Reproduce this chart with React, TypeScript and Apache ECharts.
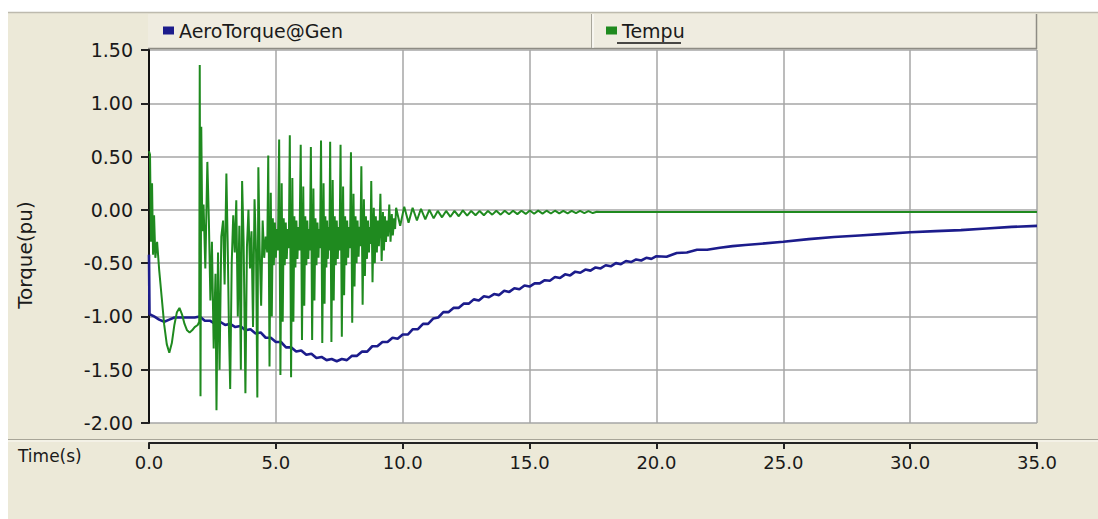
import React, { useEffect, useRef } from "react";
import * as echarts from "echarts";

const seriesNames = ["AeroTorque@Gen", "Tempu"];
const seriesColors = ["#1c1c8c", "#1f8a1f"];
const yAxisTitle = "Torque(pu)";
const xAxisTitle = "Time(s)";

// AeroTorque@Gen : [time (s), torque (pu)]
const aeroTorque: [number, number][] = [
  [0.0, -0.42], [0.02, -0.98], [0.2, -1.0], [0.4, -1.03], [0.6, -1.05], [0.8, -1.03], [1.0, -1.01],
  [1.4, -1.01], [1.8, -1.01], [2.0, -1.0], [2.2, -1.04], [2.4, -1.04], [2.6, -1.07], [2.8, -1.05],
  [3.0, -1.08], [3.2, -1.07], [3.4, -1.1], [3.6, -1.09], [3.8, -1.13], [4.0, -1.12], [4.2, -1.16],
  [4.4, -1.15], [4.6, -1.2], [4.8, -1.2], [5.0, -1.24], [5.2, -1.24], [5.4, -1.29], [5.6, -1.29],
  [5.8, -1.33], [6.0, -1.32], [6.2, -1.36], [6.4, -1.35], [6.6, -1.39], [6.8, -1.38], [7.0, -1.41],
  [7.2, -1.4], [7.4, -1.42], [7.6, -1.4], [7.8, -1.41], [8.0, -1.37], [8.2, -1.37], [8.4, -1.33],
  [8.6, -1.33], [8.8, -1.28], [9.0, -1.28], [9.2, -1.24], [9.4, -1.24], [9.6, -1.2], [9.8, -1.21],
  [10.0, -1.17], [10.2, -1.17], [10.4, -1.12], [10.6, -1.12], [10.8, -1.07], [11.0, -1.07],
  [11.2, -1.02], [11.4, -1.01], [11.6, -0.96], [11.8, -0.96], [12.0, -0.92], [12.2, -0.92],
  [12.4, -0.88], [12.6, -0.88], [12.8, -0.84], [13.0, -0.85], [13.2, -0.81], [13.4, -0.82],
  [13.6, -0.79], [13.8, -0.8], [14.0, -0.76], [14.2, -0.77], [14.4, -0.735], [14.6, -0.745],
  [14.8, -0.71], [15.0, -0.72], [15.2, -0.69], [15.4, -0.69], [15.6, -0.66], [15.8, -0.665],
  [16.0, -0.63], [16.2, -0.64], [16.4, -0.605], [16.6, -0.615], [16.8, -0.58], [17.0, -0.59],
  [17.2, -0.56], [17.4, -0.57], [17.6, -0.54], [17.8, -0.55], [18.0, -0.52], [18.2, -0.53],
  [18.4, -0.5], [18.6, -0.51], [18.8, -0.48], [19.0, -0.49], [19.2, -0.465], [19.4, -0.475],
  [19.6, -0.45], [19.8, -0.46], [20.0, -0.435], [20.4, -0.44], [20.8, -0.405], [21.2, -0.4],
  [21.6, -0.375], [22.0, -0.375], [22.5, -0.355], [23.0, -0.34], [23.5, -0.33], [24.0, -0.32],
  [25.0, -0.3], [26.0, -0.275], [27.0, -0.255], [28.0, -0.24], [29.0, -0.225], [30.0, -0.21],
  [31.0, -0.2], [32.0, -0.19], [33.0, -0.175], [34.0, -0.16], [35.0, -0.15],
];

// Tempu : [time (s), torque (pu)]
const tempu: [number, number][] = [
  [0.0, 0.55], [0.04, 0.52], [0.08, -0.3], [0.12, 0.25], [0.16, -0.42], [0.2, -0.05], [0.25, -0.45],
  [0.32, -0.3], [0.4, -0.56], [0.5, -0.82], [0.6, -1.08], [0.7, -1.26], [0.8, -1.34], [0.9, -1.25],
  [1.0, -1.08], [1.1, -0.96], [1.2, -0.92], [1.3, -0.98], [1.4, -1.07], [1.5, -1.13], [1.6, -1.15],
  [1.7, -1.13], [1.8, -1.1], [1.92, -1.08], [1.98, -1.05],
  [2.0, 1.36], [2.03, -1.75], [2.06, 0.78], [2.1, -0.2], [2.15, 0.05], [2.22, -0.55], [2.3, 0.45],
  [2.36, -0.1], [2.42, -0.85], [2.48, -0.3], [2.55, -1.3], [2.62, -0.6], [2.66, -1.88], [2.72, -0.4],
  [2.78, -1.5], [2.85, -0.25], [2.92, -0.1], [2.98, -0.7], [3.05, 0.34], [3.1, -0.3], [3.15, -1.1],
  [3.2, -1.68], [3.26, -0.5], [3.32, -0.05], [3.38, -0.4], [3.44, 0.09], [3.5, -1.0], [3.56, -0.15],
  [3.62, -1.5], [3.67, 0.27], [3.73, -0.3], [3.8, -1.72], [3.86, -0.35], [3.92, 0.0], [3.98, -0.55],
  [4.04, -0.2], [4.1, -1.1], [4.16, 0.1], [4.22, -0.4], [4.27, -1.76], [4.31, 0.4], [4.36, -0.35],
  [4.42, -0.9], [4.48, -0.1], [4.54, -0.45], [4.6, -0.25],
  [4.66, -0.4], [4.7, 0.51], [4.75, -1.47], [4.8, 0.16], [4.84, -1.0], [4.88, -0.08], [4.92, -0.52],
  [4.96, -0.12], [5.0, -0.45], [5.04, -0.18], [5.08, -0.38],
  [5.13, 0.66], [5.18, -1.55], [5.23, 0.25], [5.27, -1.05], [5.31, -0.08], [5.35, -0.52], [5.39, -0.12],
  [5.43, -0.46], [5.47, -0.18], [5.51, -0.36],
  [5.55, 0.7], [5.6, -1.57], [5.65, 0.3], [5.69, -1.05], [5.73, -0.06], [5.77, -0.54], [5.81, -0.1],
  [5.85, -0.46], [5.89, -0.16], [5.93, -0.38],
  [5.98, 0.61], [6.03, -1.22], [6.08, 0.22], [6.12, -0.9], [6.16, -0.06], [6.2, -0.52], [6.24, -0.1],
  [6.28, -0.46], [6.31, -0.18], [6.34, -0.38],
  [6.38, 0.59], [6.43, -1.22], [6.48, 0.2], [6.52, -0.85], [6.56, -0.08], [6.6, -0.52], [6.64, -0.12],
  [6.68, -0.45], [6.71, -0.18], [6.74, -0.36],
  [6.78, 0.65], [6.83, -1.25], [6.88, 0.25], [6.92, -0.88], [6.95, -0.06], [6.99, -0.54], [7.02, -0.1],
  [7.05, -0.46], [7.08, -0.16], [7.11, -0.38],
  [7.14, 0.64], [7.19, -1.24], [7.24, 0.28], [7.28, -0.85], [7.32, -0.06], [7.36, -0.52], [7.4, -0.1],
  [7.44, -0.46], [7.48, -0.16], [7.51, -0.38],
  [7.55, 0.61], [7.6, -1.19], [7.65, 0.22], [7.69, -0.8], [7.73, -0.06], [7.77, -0.52], [7.81, -0.1],
  [7.85, -0.45], [7.89, -0.16], [7.92, -0.36],
  [7.96, 0.54], [8.01, -1.06], [8.06, 0.15], [8.1, -0.72], [8.14, -0.06], [8.18, -0.5], [8.22, -0.1],
  [8.26, -0.44], [8.3, -0.16], [8.33, -0.34],
  [8.37, 0.41], [8.42, -0.89], [8.47, 0.1], [8.51, -0.62], [8.55, -0.06], [8.59, -0.46], [8.63, -0.1],
  [8.67, -0.4], [8.7, -0.16], [8.73, -0.32],
  [8.76, 0.27], [8.81, -0.68], [8.86, 0.02], [8.9, -0.5], [8.94, -0.06], [8.98, -0.4], [9.02, -0.1],
  [9.06, -0.34], [9.09, -0.15],
  [9.12, 0.15], [9.17, -0.48], [9.22, -0.02], [9.26, -0.38], [9.3, -0.06], [9.34, -0.3], [9.38, -0.1],
  [9.42, -0.25],
  [9.47, 0.05], [9.52, -0.3], [9.57, -0.04], [9.61, -0.24], [9.66, -0.08], [9.7, -0.18],
  [9.74, 0.02], [9.9, -0.15], [10.06, 0.03], [10.23, -0.12], [10.39, 0.02], [10.56, -0.1],
  [10.72, 0.01], [10.89, -0.09], [11.05, 0.0], [11.22, -0.08], [11.38, -0.01], [11.55, -0.07],
  [11.71, -0.01], [11.88, -0.065], [12.04, -0.01], [12.21, -0.06], [12.37, -0.005], [12.54, -0.055],
  [12.7, -0.01], [12.87, -0.05], [13.03, -0.01], [13.2, -0.05], [13.36, -0.01], [13.53, -0.045],
  [13.69, -0.008], [13.86, -0.045], [14.02, -0.008], [14.19, -0.042], [14.35, -0.008], [14.52, -0.04],
  [14.68, -0.008], [14.85, -0.038], [15.01, -0.006], [15.18, -0.036], [15.34, -0.007], [15.51, -0.035],
  [15.67, -0.008], [15.84, -0.034], [16.0, -0.008], [16.17, -0.033], [16.33, -0.009], [16.5, -0.032],
  [16.66, -0.01], [16.83, -0.031], [16.99, -0.01], [17.16, -0.03], [17.32, -0.012], [17.49, -0.03],
  [17.65, -0.018], [17.8, -0.02], [35.0, -0.02],
];

const labelFont = "DejaVu Sans";
const textColor = "#1a1a1a";

export default function App() {
  const ref = useRef<HTMLDivElement>(null);
  useEffect(() => {
    if (!ref.current) return;
    const chart = echarts.init(ref.current, undefined, { renderer: "svg" });
    const legendText = { fontFamily: labelFont, fontSize: 19, color: textColor };
    chart.setOption({
      animation: false,
      backgroundColor: "#ffffff",
      grid: { left: 149, right: 61, top: 50, bottom: 96, containLabel: false },
      legend: [
        {
          data: [seriesNames[0]], left: 158, top: 16, icon: "rect", itemWidth: 11, itemHeight: 8,
          selectedMode: false, textStyle: legendText,
        },
        {
          data: [seriesNames[1]], left: 601, top: 16, icon: "rect", itemWidth: 11, itemHeight: 8,
          selectedMode: false, textStyle: legendText,
        },
      ],
      xAxis: {
        type: "value", min: 0, max: 35, interval: 5, offset: 20,
        axisLine: { onZero: false, lineStyle: { color: "#222", width: 2 } },
        axisTick: { show: true, length: 6, lineStyle: { color: "#222", width: 2 } },
        axisLabel: {
          formatter: (v: number) => v.toFixed(1), margin: 10, fontFamily: labelFont,
          fontSize: 18, color: textColor,
        },
        splitLine: { show: true, lineStyle: { color: "#a6a6a6", width: 1.5 } },
      },
      yAxis: {
        type: "value", min: -2, max: 1.5, interval: 0.5,
        axisLine: { show: true, onZero: false, lineStyle: { color: "#111", width: 2 } },
        axisTick: { show: true, length: 8, lineStyle: { color: "#222", width: 2 } },
        axisLabel: {
          formatter: (v: number) => v.toFixed(2), margin: 16, fontFamily: labelFont,
          fontSize: 19, color: textColor,
        },
        splitLine: { show: true, lineStyle: { color: "#a6a6a6", width: 1.5 } },
      },
      series: [
        {
          name: seriesNames[0], type: "line", data: aeroTorque, showSymbol: false, symbol: "none",
          lineStyle: { color: seriesColors[0], width: 2.6 }, itemStyle: { color: seriesColors[0] },
        },
        {
          name: seriesNames[1], type: "line", data: tempu, showSymbol: false, symbol: "none",
          lineStyle: { color: seriesColors[1], width: 2 }, itemStyle: { color: seriesColors[1] },
        },
      ],
      graphic: [
        { type: "rect", z: -100, shape: { x: 8, y: 12, width: 1090, height: 507 }, style: { fill: "#ECE9D8" } },
        { type: "line", z: -95, shape: { x1: 8, y1: 12.5, x2: 1098, y2: 12.5 }, style: { stroke: "#bdbaae", lineWidth: 1.5 } },
        { type: "rect", z: -90, shape: { x: 149, y: 50, width: 888, height: 373 }, style: { fill: "#ffffff" } },
        { type: "rect", z: -80, shape: { x: 148, y: 14, width: 444, height: 34 }, style: { fill: "#EFECE0" } },
        { type: "rect", z: -80, shape: { x: 592, y: 14, width: 444, height: 34 }, style: { fill: "#EFECE0" } },
        { type: "line", z: -70, shape: { x1: 148, y1: 48.5, x2: 1037, y2: 48.5 }, style: { stroke: "#8e8c84", lineWidth: 1.5 } },
        { type: "line", z: -70, shape: { x1: 591.5, y1: 14, x2: 591.5, y2: 48 }, style: { stroke: "#a9a79c", lineWidth: 1 } },
        { type: "line", z: -70, shape: { x1: 593, y1: 14, x2: 593, y2: 48 }, style: { stroke: "#ffffff", lineWidth: 1 } },
        { type: "line", z: -70, shape: { x1: 1036.5, y1: 14, x2: 1036.5, y2: 49 }, style: { stroke: "#8e8c84", lineWidth: 1.5 } },
        { type: "line", z: -70, shape: { x1: 8, y1: 439.5, x2: 1098, y2: 439.5 }, style: { stroke: "#a8a598", lineWidth: 1.2 } },
        { type: "line", z: -70, shape: { x1: 8, y1: 441, x2: 1098, y2: 441 }, style: { stroke: "#fbfaf5", lineWidth: 1 } },
        { type: "line", z: 10, shape: { x1: 617, y1: 43, x2: 681, y2: 43 }, style: { stroke: "#111", lineWidth: 1.5 } },
        {
          type: "text", z: 10, x: 18, y: 456,
          style: { text: xAxisTitle, fill: textColor, font: `17px "${labelFont}"`, align: "left", verticalAlign: "middle" },
        },
        {
          type: "text", z: 10, x: 25, y: 255, rotation: Math.PI / 2,
          style: { text: yAxisTitle, fill: textColor, font: `20px "${labelFont}"`, align: "center", verticalAlign: "middle" },
        },
      ],
    });
    return () => chart.dispose();
  }, []);
  return <div ref={ref} style={{ position: "absolute", left: 0, top: 0, width: 1098, height: 519 }} />;
}
